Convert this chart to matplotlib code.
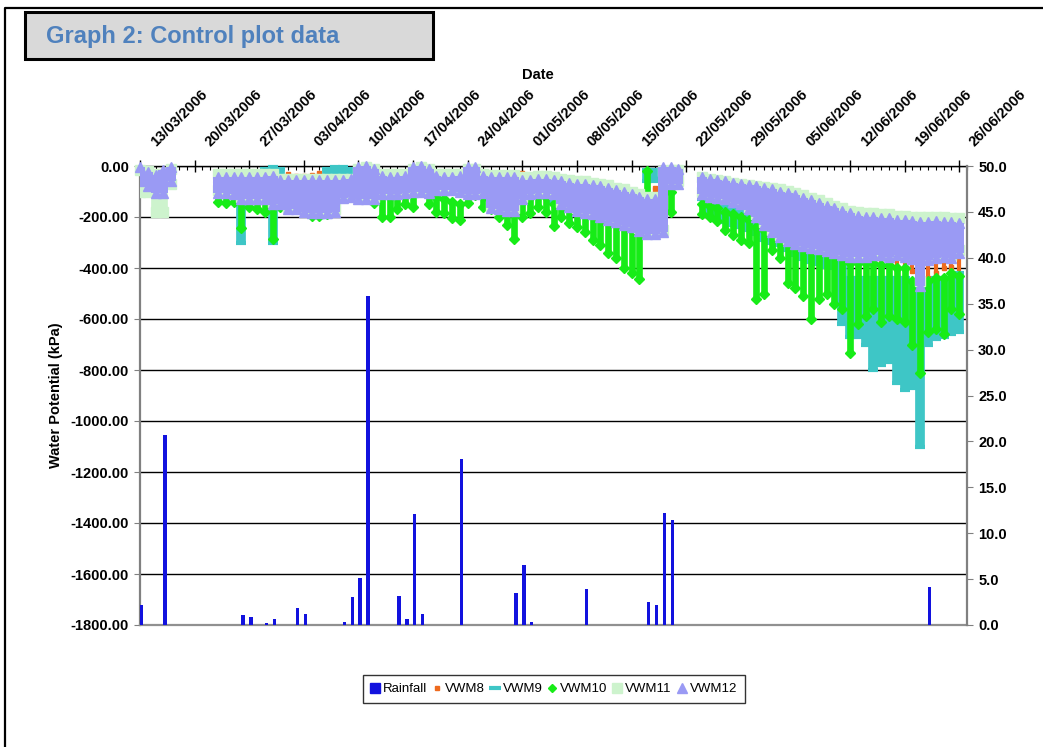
import matplotlib
matplotlib.use("Agg")
import matplotlib.pyplot as plt
import matplotlib.dates as mdates
from matplotlib.ticker import FuncFormatter, FixedLocator
from matplotlib.lines import Line2D
from matplotlib.patches import Rectangle
from matplotlib.transforms import ScaledTranslation
import numpy as np
import pandas as pd
from datetime import datetime

plt.rcParams['font.family'] = ['Liberation Sans', 'DejaVu Sans']
plt.rcParams['font.weight'] = 'bold'

N = None
# ---------------- data ----------------
days = pd.date_range('2006-03-13', periods=106, freq='D')   # 13/03/2006 .. 26/06/2006

rain_dates = ['13/03/2006', '16/03/2006', '26/03/2006', '27/03/2006', '29/03/2006', '30/03/2006',
              '02/04/2006', '03/04/2006', '08/04/2006', '09/04/2006', '10/04/2006', '11/04/2006',
              '15/04/2006', '16/04/2006', '17/04/2006', '18/04/2006', '23/04/2006', '30/04/2006',
              '01/05/2006', '02/05/2006', '09/05/2006', '17/05/2006', '18/05/2006', '19/05/2006',
              '20/05/2006', '22/06/2006']
rain_mm = [2.2, 20.7, 1.1, 0.9, 0.2, 0.6,
           1.8, 1.2, 0.35, 3.1, 5.1, 35.8,
           3.2, 0.6, 12.1, 1.2, 18.1, 3.5,
           6.5, 0.35, 3.9, 2.5, 2.2, 12.2,
           11.4, 4.1]

# daily maximum / minimum water potential (kPa) per sensor
vwm8_max = [N, N, N, N, N, N, N, N, N, N,
            -60, -60, -60, -60, -60, -60, -60, -60, -27, -30,
            -40, -40, -35, -27, -30, -35, -30, -27, -30, -60,
            -60, -60, -60, -60, -60, -60, -60, -60, -60, -60,
            -60, -60, -60, -60, -60, -60, -60, -60, -60, -28,
            -35, -60, -60, -60, -65, -65, -65, -62, -63, -65,
            -90, -100, -110, -120, -125, -85, -85, -100, -60, N,
            N, N, -80, -90, -100, -110, -120, -130, -140, -150,
            -160, -170, -180, -190, -200, -210, -220, -230, -240, -250,
            -250, -250, -260, -260, -260, -260, -260, -260, -270, -270,
            -280, -280, -280, -280, -280, -280]
vwm8_min = [N, N, N, N, N, N, N, N, N, N,
            -100, -100, -100, -100, -100, -100, -100, -100, -100, -100,
            -100, -100, -100, -100, -100, -100, -100, -100, -100, -100,
            -100, -100, -100, -100, -100, -100, -100, -100, -100, -100,
            -100, -100, -100, -100, -100, -100, -100, -100, -100, -100,
            -100, -100, -100, -100, -110, -120, -130, -140, -150, -160,
            -170, -180, -190, -200, -210, -106, -106, -120, -70, N,
            N, N, -100, -110, -120, -125, -130, -140, -160, -190,
            -220, -250, -270, -285, -295, -305, -310, -315, -320, -330,
            -340, -370, -375, -380, -370, -385, -380, -395, -400, -410,
            -490, -440, -420, -400, -395, -430]

vwm9_max = [N, N, N, N, N, N, N, N, N, N,
            -60, -60, -60, -150, -60, -60, -10, -5, -10, -60,
            -60, -60, -60, -60, -10, -5, -5, -10, -40, -40,
            -40, -40, -40, -40, -40, -5, -20, -40, -40, -40,
            -40, -40, -40, -40, -40, -40, -40, -40, -40, -40,
            -40, -50, -50, -50, -60, -60, -60, -60, -70, -70,
            -80, -90, -100, -110, -120, -15, -15, -20, -30, N,
            N, N, -60, -70, -70, -80, -80, -90, -100, -110,
            -120, -130, -140, -150, -160, -170, -180, -190, -200, -210,
            -380, -440, -440, -440, -440, -440, -440, -440, -440, -450,
            -450, -450, -440, -440, -440, -420]
vwm9_min = [N, N, N, N, N, N, N, N, N, N,
            -100, -100, -100, -300, -110, -110, -110, -300, -120, -150,
            -160, -170, -200, -200, -200, -170, -120, -110, -100, -110,
            -120, -120, -110, -100, -100, -95, -95, -100, -90, -90,
            -95, -95, -100, -100, -110, -150, -160, -165, -170, -90,
            -90, -110, -120, -140, -150, -170, -185, -195, -205, -215,
            -225, -235, -245, -255, -265, -60, -60, -70, -80, N,
            N, N, -130, -190, -210, -220, -230, -240, -250, -265,
            -290, -300, -310, -330, -350, -365, -375, -385, -395, -400,
            -620, -670, -670, -700, -800, -780, -770, -850, -880, -870,
            -1100, -700, -680, -670, -660, -650]

vwm10_max = [N, N, N, N, N, N, N, N, N, N,
             -95, -95, -95, -140, -110, -110, -120, -150, -120, -120,
             -120, -120, -140, -140, -140, -110, -100, -90, -80, -70,
             -60, -110, -120, -110, -90, -100, -70, -90, -120, -130,
             -140, -150, -100, -85, -110, -120, -130, -150, -165, -140,
             -120, -100, -120, -150, -140, -165, -170, -180, -180, -190,
             -190, -210, -240, -250, -255, -20, -130, N, -100, N,
             N, N, -150, -155, -165, -180, -190, -200, -210, -240,
             -250, -250, -280, -290, -300, -310, -320, -330, -330, -340,
             -350, -380, -380, -380, -380, -390, -390, -400, -400, -450,
             -440, -450, -440, -440, -420, -430]
vwm10_min = [N, N, N, N, N, N, N, N, N, N,
             -140, -145, -140, -245, -160, -170, -180, -285, -160, -165,
             -170, -175, -195, -195, -190, -160, -125, -115, -120, -130,
             -145, -200, -200, -170, -150, -160, -100, -150, -180, -185,
             -205, -210, -145, -115, -160, -170, -200, -230, -285, -200,
             -185, -160, -180, -235, -200, -225, -240, -260, -290, -310,
             -340, -360, -400, -420, -445, -150, -155, N, -180, N,
             N, N, -190, -200, -215, -250, -270, -290, -300, -520,
             -500, -330, -360, -460, -480, -510, -600, -520, -500, -540,
             -560, -735, -620, -590, -560, -610, -590, -600, -610, -700,
             -810, -650, -640, -660, -560, -580]

vwm11_max = [-15, -20, -30, -30, -10, N, N, N, N, N,
             -30, -30, -30, -30, -30, -30, -30, -30, -50, -50,
             -50, -50, -50, -50, -50, -50, -50, -50, -10, -5,
             -10, -30, -30, -30, -30, -10, -5, -10, -30, -30,
             -30, -30, -10, -10, -30, -35, -35, -35, -35, -45,
             -45, -40, -40, -45, -50, -55, -60, -60, -65, -70,
             -75, -85, -90, -100, -110, -120, -120, -20, -15, -15,
             N, N, -45, -50, -55, -60, -65, -70, -75, -80,
             -82, -85, -92, -97, -105, -115, -125, -135, -145, -155,
             -165, -175, -180, -185, -185, -190, -190, -195, -195, -200,
             -200, -200, -200, -200, -205, -205]
vwm11_min = [-100, -100, -180, -180, -70, N, N, N, N, N,
             -95, -95, -100, -120, -120, -120, -120, -140, -140, -160,
             -160, -170, -175, -175, -175, -170, -115, -110, -120, -120,
             -120, -100, -100, -100, -95, -90, -90, -95, -85, -85,
             -85, -90, -100, -100, -95, -155, -160, -165, -165, -120,
             -100, -95, -95, -100, -140, -150, -165, -175, -180, -190,
             -200, -210, -220, -230, -245, -255, -255, -250, -60, -60,
             N, N, -100, -110, -115, -120, -130, -140, -160, -190,
             -220, -250, -270, -285, -295, -305, -310, -315, -320, -325,
             -340, -345, -345, -345, -340, -340, -345, -340, -345, -355,
             -450, -360, -350, -345, -350, -330]

vwm12_max = [-5, -25, -35, -15, -5, N, N, N, N, N,
             -45, -45, -45, -45, -45, -45, -45, -40, -55, -55,
             -55, -55, -55, -55, -55, -55, -55, -50, -5, 0,
             -10, -40, -45, -45, -40, -5, 0, -10, -40, -45,
             -45, -40, -5, -5, -40, -45, -45, -45, -45, -55,
             -55, -50, -50, -55, -60, -65, -70, -70, -75, -80,
             -85, -95, -100, -110, -120, -130, -130, -5, -5, -10,
             N, N, -45, -50, -55, -60, -65, -70, -75, -80,
             -85, -90, -100, -105, -115, -125, -135, -145, -155, -165,
             -175, -185, -195, -200, -200, -205, -205, -210, -210, -215,
             -220, -220, -215, -220, -220, -225]
vwm12_min = [-60, -80, -105, -105, -60, N, N, N, N, N,
             -105, -105, -110, -130, -130, -130, -130, -150, -150, -170,
             -170, -180, -185, -185, -185, -180, -125, -120, -130, -130,
             -130, -110, -110, -110, -105, -100, -100, -105, -95, -95,
             -95, -100, -110, -110, -105, -165, -170, -175, -175, -130,
             -110, -105, -105, -110, -150, -160, -175, -185, -190, -200,
             -210, -220, -230, -240, -255, -265, -265, -260, -70, -70,
             N, N, -110, -120, -125, -130, -140, -150, -170, -200,
             -230, -260, -280, -295, -305, -315, -320, -325, -335, -340,
             -350, -355, -355, -355, -350, -350, -355, -350, -355, -365,
             -470, -370, -360, -355, -360, -340]

series_names = ['VWM8', 'VWM9', 'VWM10', 'VWM11', 'VWM12']

# ---------------- styling ----------------
C_RAIN = '#1212DE'
C8, C9, C10, C11, C12 = '#EE6A1E', '#3EC6C6', '#17EC17', '#CDF3CD', '#9A9AF4'

W, H = 1043, 747
def fx(px):
    return px / W
def fy(py):
    return 1 - py / H

fig = plt.figure(figsize=(W / 100, H / 100), dpi=100)
fig.patch.set_facecolor('white')

# outer frame (left and top edges)
fig.add_artist(Line2D([fx(5), fx(5), fx(1043)], [fy(747), fy(8), fy(8)],
                      color='black', lw=1.6))
# title box
fig.add_artist(Rectangle((fx(25), fy(59)), fx(433) - fx(25), fy(12) - fy(59),
                         facecolor='#D9D9D9', edgecolor='black', lw=2.2))
fig.text(fx(46), fy(36), 'Graph 2: Control plot data', color='#4F81BD',
         fontsize=17, fontweight='bold', ha='left', va='center')

ax = fig.add_axes([fx(140), fy(625), fx(967) - fx(140), fy(166) - fy(625)])
ax2 = ax.twinx()

x = mdates.date2num(days.to_pydatetime())

def arr(v):
    return np.array([np.nan if e is None else e for e in v], dtype=float)

def draw(vmax, vmin, color, marker, ms, lw, z, mew=1.0):
    hi, lo = arr(vmax), arr(vmin)
    ok = ~np.isnan(hi) & ~np.isnan(lo)
    ax.vlines(x[ok], lo[ok], hi[ok], colors=color, linewidth=lw, zorder=z)
    ax.plot(x[ok], hi[ok], ls='none', marker=marker, ms=ms, color=color,
            mec=color, mew=mew, zorder=z, clip_on=False)
    ax.plot(x[ok], lo[ok], ls='none', marker=marker, ms=ms, color=color,
            mec=color, mew=mew, zorder=z)

draw(vwm8_max, vwm8_min, C8, 's', 3.5, 3.0, 2)
draw(vwm9_max, vwm9_min, C9, '_', 7.5, 7.0, 3, mew=3)
draw(vwm10_max, vwm10_min, C10, 'D', 5.5, 4.8, 4)
draw(vwm11_max, vwm11_min, C11, 's', 7.0, 7.0, 5)
draw(vwm12_max, vwm12_min, C12, '^', 7.5, 7.2, 6)

rx = mdates.date2num(pd.to_datetime(rain_dates, dayfirst=True).to_pydatetime())
ax2.bar(rx, rain_mm, width=0.42, align='edge', color=C_RAIN, zorder=3)

# ---- axes ----
ax.set_xlim(mdates.date2num(datetime(2006, 3, 13)), mdates.date2num(datetime(2006, 6, 27)))
ax.set_ylim(-1800, 0)
ax.yaxis.set_major_locator(FixedLocator(np.arange(-1800, 1, 200)))
ax.yaxis.set_major_formatter(FuncFormatter(lambda v, p: f'{v + 0:.2f}'))
ax.grid(axis='y', color='black', lw=1.0, zorder=0)
ax.set_axisbelow(True)

ax2.set_ylim(0, 50)
ax2.yaxis.set_major_locator(FixedLocator(np.arange(0, 51, 5)))
ax2.yaxis.set_major_formatter(FuncFormatter(lambda v, p: f'{v:.1f}'))

ax.xaxis.tick_top()
ax.xaxis.set_label_position('top')
ax.xaxis.set_major_locator(mdates.WeekdayLocator(byweekday=mdates.MO))
ax.xaxis.set_minor_locator(mdates.DayLocator())
ax.xaxis.set_major_formatter(mdates.DateFormatter('%d/%m/%Y'))
ax.tick_params(axis='x', which='major', direction='inout', length=8, width=1,
               color='black', labelsize=10.5, pad=15)
ax.tick_params(axis='x', which='minor', direction='in', length=3, width=0.8, color='black')
shift = ScaledTranslation(8 / 100, 0, fig.dpi_scale_trans)
for lbl in ax.get_xticklabels():
    lbl.set_rotation(45)
    lbl.set_rotation_mode('anchor')
    lbl.set_ha('left')
    lbl.set_va('top')
    lbl.set_transform(lbl.get_transform() + shift)

ax.tick_params(axis='y', direction='out', length=4, color='#808080', labelsize=10.5, pad=4)
ax2.tick_params(axis='y', direction='out', length=4, color='#808080', labelsize=10.5, pad=4)

ax.spines['right'].set_visible(False)
ax.spines['top'].set_color('black')
ax.spines['top'].set_linewidth(1.0)
ax.spines['left'].set_color('#808080')
ax.spines['left'].set_linewidth(1.6)
ax.spines['bottom'].set_color('#909090')
ax.spines['bottom'].set_linewidth(1.6)
for s in ['top', 'left', 'bottom']:
    ax2.spines[s].set_visible(False)
ax2.spines['right'].set_color('#808080')
ax2.spines['right'].set_linewidth(1.6)

ax.set_ylabel('Water Potential (kPa)', fontsize=10.5, fontweight='bold')
ax.yaxis.set_label_coords((63 - 140) / 827, 0.5)
ax.set_xlabel('Date', fontsize=10.5, fontweight='bold')
ax.xaxis.set_label_coords((538 - 140) / 827, (625 - 79) / 459)

# ---- legend ----
handles = [
    Line2D([], [], ls='none', marker='s', ms=6.5, color=C_RAIN),
    Line2D([], [], ls='none', marker='s', ms=3, color=C8),
    Line2D([], [], ls='none', marker='_', ms=8, mew=3, color=C9),
    Line2D([], [], ls='none', marker='D', ms=4, color=C10),
    Line2D([], [], ls='none', marker='s', ms=7, color=C11),
    Line2D([], [], ls='none', marker='^', ms=7.5, color=C12),
]
labels = ['Rainfall'] + series_names
leg = fig.legend(handles, labels, loc='center', bbox_to_anchor=(fx(554), fy(689)),
                 ncol=6, frameon=True, fancybox=False, edgecolor='black',
                 prop={'size': 9.5, 'weight': 'normal'}, handlelength=0.6,
                 handletextpad=0.3, columnspacing=0.45, borderpad=0.6)
leg.get_frame().set_linewidth(1.0)

fig.savefig('out.png', dpi=100, facecolor='white')
